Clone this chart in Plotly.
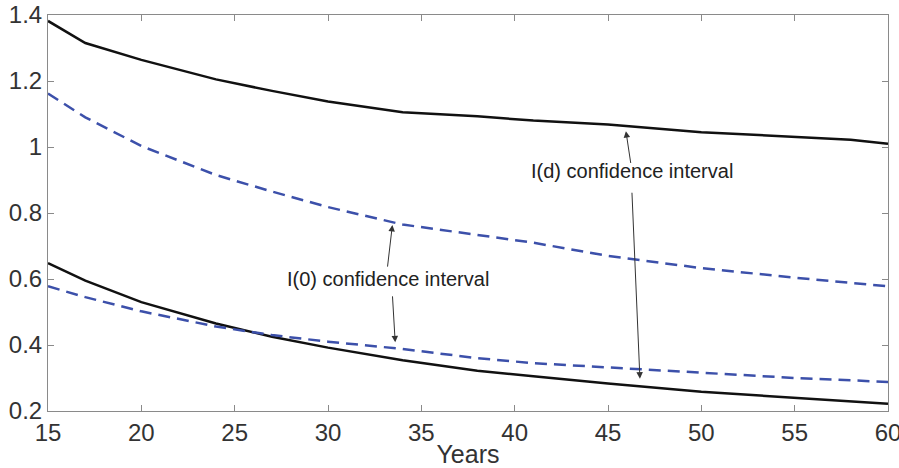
import plotly.graph_objects as go

years = [15, 17, 20, 24, 27, 30, 34, 38, 41, 45, 50, 55, 58, 60]
id_upper = [1.382, 1.315, 1.264, 1.205, 1.170, 1.138, 1.105, 1.093, 1.080, 1.068, 1.045, 1.031, 1.022, 1.010]
i0_upper = [1.162, 1.090, 1.003, 0.915, 0.865, 0.818, 0.765, 0.733, 0.710, 0.670, 0.633, 0.604, 0.589, 0.578]
id_lower = [0.648, 0.595, 0.530, 0.465, 0.425, 0.392, 0.354, 0.322, 0.305, 0.283, 0.258, 0.240, 0.229, 0.222]
i0_lower = [0.578, 0.545, 0.502, 0.456, 0.430, 0.410, 0.388, 0.360, 0.345, 0.332, 0.315, 0.300, 0.293, 0.288]

x_ticks = [15, 20, 25, 30, 35, 40, 45, 50, 55, 60]
y_ticks = [0.2, 0.4, 0.6, 0.8, 1.0, 1.2, 1.4]
y_tick_text = ["0.2", "0.4", "0.6", "0.8", "1", "1.2", "1.4"]

label_i0 = "I(0) confidence interval"
label_id = "I(d) confidence interval"

BLACK = "#111111"
BLUE = "#3c50aa"
FONT = "Liberation Sans, Arial, Helvetica, sans-serif"

fig = go.Figure()
fig.add_trace(go.Scatter(x=years, y=id_upper, mode="lines", line=dict(color=BLACK, width=2.5)))
fig.add_trace(go.Scatter(x=years, y=id_lower, mode="lines", line=dict(color=BLACK, width=2.5)))
fig.add_trace(go.Scatter(x=years, y=i0_upper, mode="lines", line=dict(color=BLUE, width=2.5, dash="12px,7px")))
fig.add_trace(go.Scatter(x=years, y=i0_lower, mode="lines", line=dict(color=BLUE, width=2.5, dash="12px,7px")))

# text labels
fig.add_annotation(x=33.24, y=0.60, text=label_i0, showarrow=False,
                   font=dict(family=FONT, size=20, color="#222222"))
fig.add_annotation(x=46.28, y=0.927, text=label_id, showarrow=False,
                   font=dict(family=FONT, size=20, color="#222222"))

# arrows (head, tail) in data coords
arrows = [
    (33.45, 0.764, 33.18, 0.633),
    (33.60, 0.408, 33.45, 0.552),
    (45.96, 1.048, 46.23, 0.947),
    (46.71, 0.298, 46.28, 0.866),
]
for hx, hy, tx, ty in arrows:
    fig.add_annotation(x=hx, y=hy, ax=tx, ay=ty, xref="x", yref="y", axref="x", ayref="y",
                       text="", showarrow=True, arrowhead=2, arrowsize=1.3, arrowwidth=1,
                       arrowcolor="#333333", standoff=0, startstandoff=0)

axis_common = dict(
    showgrid=False, zeroline=False, showline=True, linecolor="#8a8a8a", linewidth=1,
    mirror="ticks", ticks="inside", ticklen=6, tickcolor="#8a8a8a", tickwidth=1,
    tickfont=dict(family=FONT, size=24, color="#333333"),
    automargin=False, ticklabeloverflow="allow",
)

fig.update_layout(
    width=899, height=468,
    margin=dict(l=48, r=11, t=15, b=57),
    paper_bgcolor="white", plot_bgcolor="white",
    showlegend=False,
    xaxis=dict(range=[15, 60], tickvals=x_ticks, ticklabelstandoff=0,
               title=dict(text="Years", font=dict(family=FONT, size=25, color="#333333"), standoff=0),
               **axis_common),
    yaxis=dict(range=[0.2, 1.4], tickvals=y_ticks, ticktext=y_tick_text, ticklabelstandoff=0,
               **axis_common),
)

fig.write_html("out.html", config={"displayModeBar": False},
               post_script="document.body.style.margin='0';document.body.style.overflow='hidden';")
